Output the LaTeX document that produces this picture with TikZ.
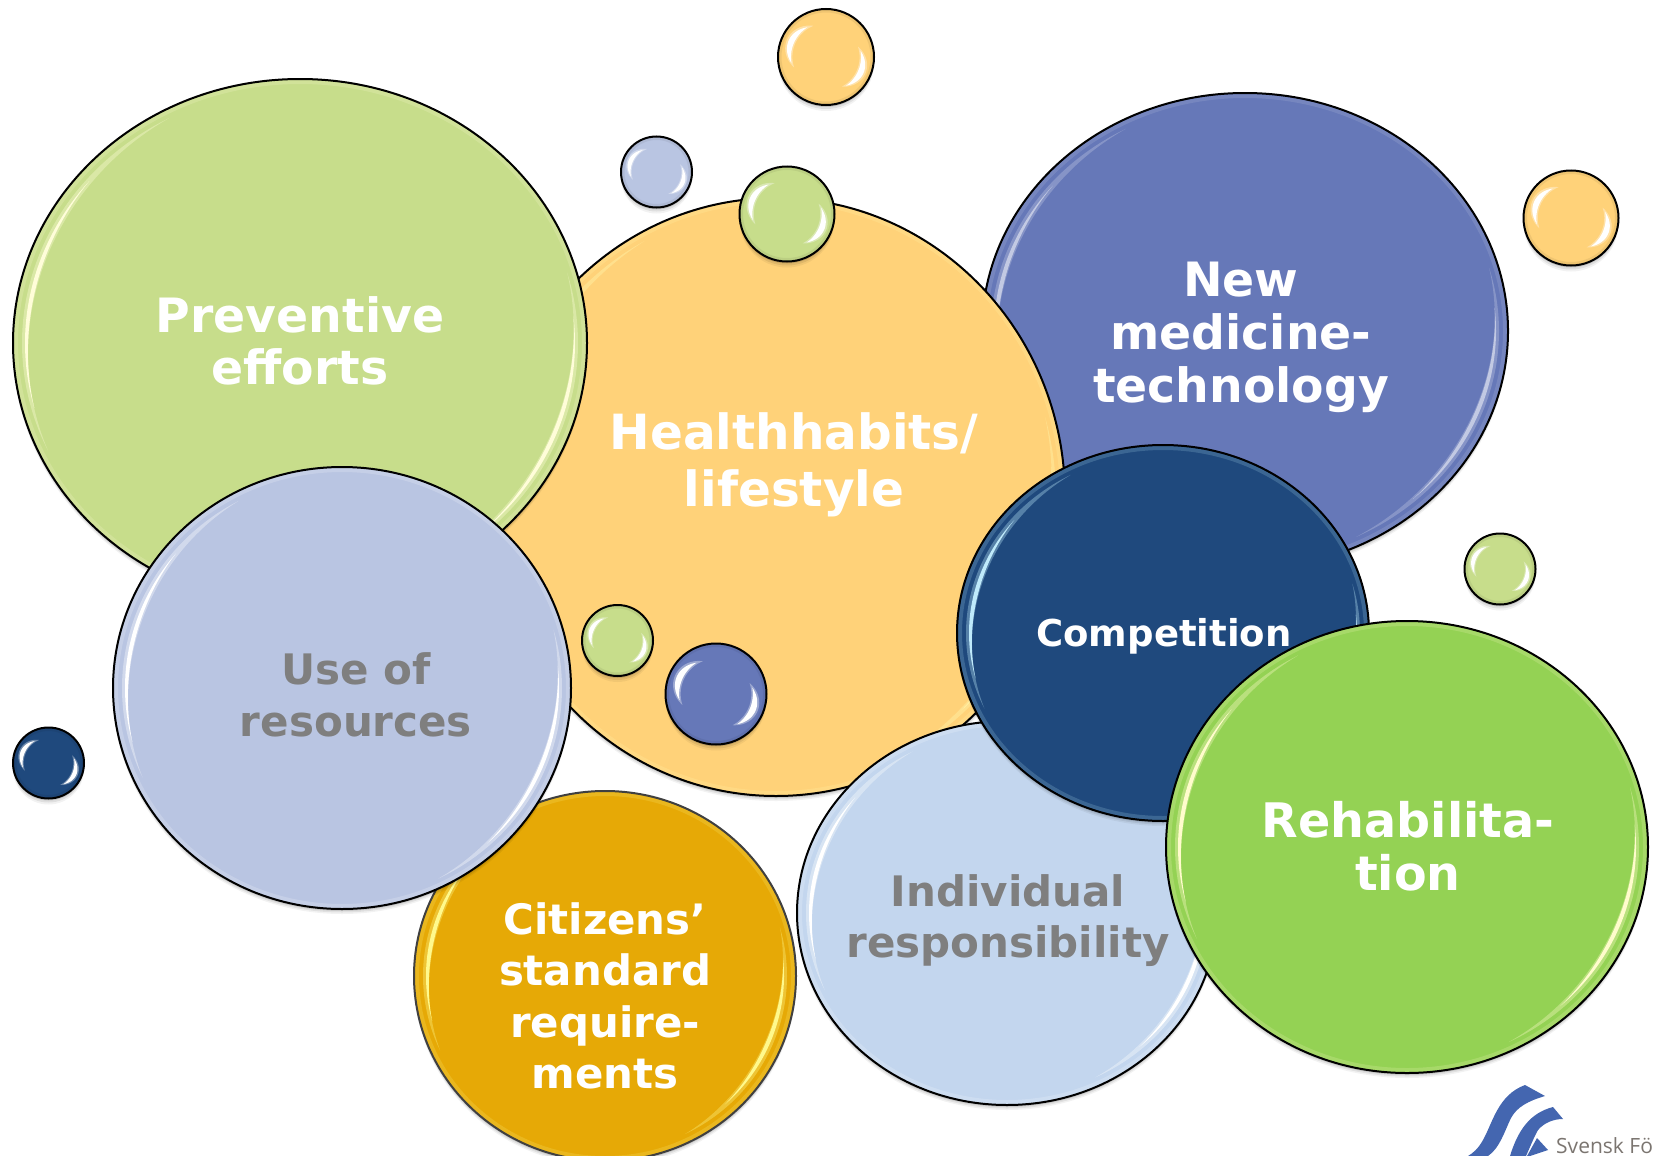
\documentclass[tikz,border=0pt]{standalone}
\usepackage{fontspec}
\setmainfont{DejaVu Sans}
\newfontfamily\logofont{Open Sans}
\definecolor{cgreen}{HTML}{C7DD8B}
\definecolor{corange}{HTML}{FFD279}
\definecolor{cblue}{HTML}{6678B8}
\definecolor{cnavy}{HTML}{1F497D}
\definecolor{clime}{HTML}{94D254}
\definecolor{csky}{HTML}{C3D6EE}
\definecolor{clav}{HTML}{B9C5E2}
\definecolor{cgold}{HTML}{E6A906}
\definecolor{ctxt}{HTML}{7F7F7F}
\definecolor{clogo}{HTML}{4466B0}
\definecolor{clogot}{HTML}{7B7570}
\tikzset{
  lbl/.style 2 args={font=\bfseries\fontsize{#1}{#2}\selectfont,align=center,text=white,inner sep=0pt},
  lblg/.style 2 args={lbl={#1}{#2},text=ctxt}
}
% crescent highlight: cx cy rx ry inset a b width style
\newcommand{\crescent}[9]{%
  \fill[#9] plot[domain=#6:#7,samples=36,smooth] ({#1+(#3-#5)*cos(\x)},{#2-(#4-#5)*sin(\x)})
    -- plot[domain=#7:#6,samples=36,smooth] ({#1+(#3-#5-#8*sin(180*(\x-#6)/(#7-#6)))*cos(\x)},{#2-(#4-#5-#8*sin(180*(\x-#6)/(#7-#6)))*sin(\x)}) -- cycle;}
% large bubble: cx cy rx ry fill highlight outline
\newcommand{\bigbubble}[7]{%
  \foreach \s/\o in {5/.05,3.5/.07,2/.10}{\fill[black,opacity=\o] (#1,#2+\s) ellipse[x radius=#3,y radius=#4];}
  \fill[#5] (#1,#2) ellipse[x radius=#3,y radius=#4];
  \draw[#6,opacity=.18,line width=4pt] (#1,#2) ellipse[x radius=#3-3,y radius=#4-3];
  \crescent{#1}{#2}{#3}{#4}{9}{118}{205}{8}{#6,opacity=.35}
  \crescent{#1}{#2}{#3}{#4}{12}{140}{195}{4}{#6}
  \crescent{#1}{#2}{#3}{#4}{9}{-64}{16}{8}{#6,opacity=.35}
  \crescent{#1}{#2}{#3}{#4}{12}{-48}{6}{4}{#6}
  \draw[#7,line width=2pt] (#1,#2) ellipse[x radius=#3,y radius=#4];}
% small bubble: cx cy r fill
\newcommand{\smallbubble}[4]{%
  \foreach \s/\o in {6/.05,4/.08,2/.12}{\fill[black,opacity=\o] (#1,#2+\s) circle[radius=#3];}
  \fill[#4] (#1,#2) circle[radius=#3];
  \draw[#4!70!black,opacity=.2,line width=3pt] (#1,#2) circle[radius=#3-2];
  \crescent{#1}{#2}{#3}{#3}{#3*.30}{112}{198}{-#3*.19}{white,opacity=.35}
  \crescent{#1}{#2}{#3}{#3}{#3*.27}{122}{190}{-#3*.12}{white}
  \crescent{#1}{#2}{#3}{#3}{#3*.30}{-62}{18}{-#3*.19}{white,opacity=.35}
  \crescent{#1}{#2}{#3}{#3}{#3*.27}{-55}{10}{-#3*.12}{white}
  \draw[black,line width=2pt] (#1,#2) circle[radius=#3];}
\begin{document}
\begin{tikzpicture}[x=1pt,y=-1pt]
\useasboundingbox (0,0) rectangle (1654,1156);
\fill[white] (0,0) rectangle (1654,1156);
\clip (0,0) rectangle (1654,1156);
% large bubbles, back to front
\bigbubble{1245}{331}{263}{238}{cblue}{white!60!cblue}{black}
\bigbubble{776}{497}{289}{299}{corange}{yellow!30!white}{black}
\bigbubble{300}{343}{287}{264}{cgreen}{yellow!15!white}{black}
\bigbubble{605}{976}{191}{185}{cgold}{yellow!45!white}{black!75}
\bigbubble{342}{688}{229}{221}{clav}{white}{black}
\bigbubble{1007}{913}{210}{192}{csky}{white}{black}
\bigbubble{1163}{633}{206}{188}{cnavy}{cyan!25!white}{black}
\bigbubble{1407}{847}{241}{226}{clime}{yellow!20!white}{black}
% small bubbles
\smallbubble{826}{57}{48}{corange}
\smallbubble{656.5}{172}{35.5}{clav}
\smallbubble{787}{214}{47.5}{cgreen}
\smallbubble{1571}{218}{47.5}{corange}
\smallbubble{1500}{569}{35.5}{cgreen}
\smallbubble{617.5}{640.5}{35.5}{cgreen}
\smallbubble{716}{694}{50.5}{cblue}
\smallbubble{48.5}{763}{35.5}{cnavy}
% labels
\node[lbl={47.3}{52.5}] (prev) at (300,341) {Preventive\\efforts};
\node[lbl={48.5}{57}] (health) at (794,465) {Healthhabits/\\lifestyle};
\node[lbl={47.3}{53}] (newmed) at (1241,337) {New\\medicine-\\technology};
\node[lbl={37}{43}] (comp) at (1164,636) {Competition};
\node[lblg={42}{52}] (use) at (356,695) {Use of\\resources};
\node[lblg={42}{51}] (indiv) at (1008,921) {Individual\\responsibility};
\node[lbl={47.6}{53}] (rehab) at (1408,846) {Rehabilita-\\tion};
\node[lbl={41.9}{51.5}] (citiz) at (605,996) {Citizens’\\standard\\require-\\ments};
% logo
\fill[clogo] (1525,1085) .. controls (1498,1095) and (1493,1122) .. (1483,1140)
   .. controls (1478,1149) and (1473,1153) .. (1468,1156) -- (1488,1156)
   .. controls (1500,1148) and (1505,1130) .. (1511,1118)
   .. controls (1517,1107) and (1528,1101) .. (1545,1096) -- cycle;
\fill[clogo] (1553,1107) .. controls (1530,1113) and (1518,1130) .. (1510,1156)
   -- (1526,1156) .. controls (1531,1145) and (1534,1137) .. (1538,1130)
   .. controls (1544,1123) and (1553,1119) .. (1563,1119) -- cycle;
\fill[clogo] (1537,1138) -- (1548,1150) -- (1530,1156) -- (1527,1156) -- cycle;
\node[font=\logofont\fontsize{21}{25}\selectfont,text=clogot,anchor=base west,inner sep=0pt] (logo) at (1556,1153) {Svensk Fö};
\end{tikzpicture}
\end{document}
